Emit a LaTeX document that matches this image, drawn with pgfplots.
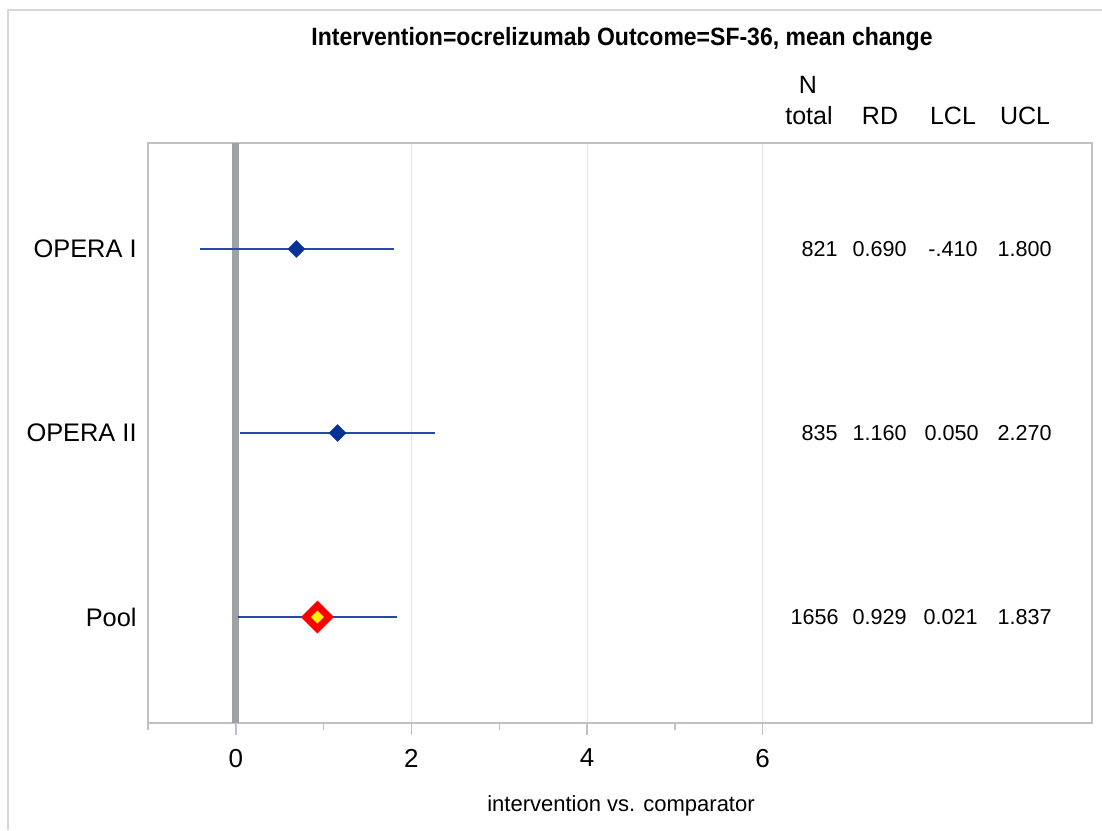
\documentclass[border=0pt]{standalone}
\usepackage{fontspec}
\setmainfont{Liberation Sans}
\newfontfamily\titlefont[FakeStretch=0.92]{Liberation Sans}
\usepackage{pgfplots}
\pgfplotsset{compat=1.18}
\definecolor{framegray}{RGB}{190,194,198}
\definecolor{outergray}{RGB}{215,215,215}
\definecolor{gridgray}{RGB}{228,228,228}
\definecolor{refgray}{RGB}{158,162,166}
\definecolor{blueline}{RGB}{35,75,170}
\definecolor{bluemark}{RGB}{5,50,150}
\begin{document}
\begin{tikzpicture}[x=0.5pt,y=0.5pt]
\useasboundingbox (0,0) rectangle (1102,830);
\draw[outergray, line width=1pt] (8,0) -- (8,820) -- (1102,820);
\begin{axis}[
  at={(74pt,53.5pt)}, anchor=south west,
  scale only axis, width=472pt, height=290pt,
  xmin=-1, xmax=9.75, ymin=0.424, ymax=3.576,
  axis line style={framegray, line width=0.75pt},
  xtick={0,2,4,6}, minor xtick={-1,1,3,5},
  xtick pos=bottom, ytick=\empty, tick align=outside,
  major tick length=6pt, minor tick length=3.5pt,
  every tick/.style={framegray, line width=0.75pt},
  xmajorgrids, grid style={gridgray, line width=0.5pt},
  /pgf/number format/assume math mode=true,
  xticklabel style={font=\fontsize{13}{15}\selectfont, yshift=-3.5pt},
]
\addplot[draw=refgray, line width=3.5pt, forget plot] coordinates {(0,0.424) (0,3.576)};
\addplot[only marks, line width=0.2pt, mark=square*, mark size=3.0pt, mark options={rotate=45, fill=bluemark, draw=bluemark, solid}] coordinates {(0.690,3) (1.160,2)};
\addplot[only marks, line width=3.4pt, mark=square*, mark size=4.1pt, mark options={rotate=45, fill=yellow, draw=red, solid, line width=3.4pt, miter limit=10}] coordinates {(0.929,1)};
\addplot[blueline, line width=0.9pt] coordinates {(-0.410,3) (1.800,3)};
\addplot[blueline, line width=0.9pt] coordinates {(0.050,2) (2.270,2)};
\addplot[blueline, line width=0.9pt] coordinates {(0.021,1) (1.837,1)};
\end{axis}
% title
\node[font=\titlefont\bfseries\fontsize{12.5}{14}\selectfont, anchor=base] at (622,784) {Intervention=ocrelizumab Outcome=SF-36, mean change};
% axis label
\node[font=\fontsize{11}{13}\selectfont, anchor=base] at (621,19) {intervention vs. comparator};
% row labels
\begin{scope}[every node/.style={font=\fontsize{12.7}{14}\selectfont, anchor=east, inner sep=0pt}]
\node at (137,581) {OPERA I};
\node at (137,397) {OPERA II};
\node at (137,213) {Pool};
\end{scope}
% headers
\begin{scope}[every node/.style={font=\fontsize{12.5}{14}\selectfont, anchor=center, inner sep=0pt}]
\node at (808,745) {N};
\node at (809,714) {total};
\node at (880,714) {RD};
\node at (953,714) {LCL};
\node at (1025,714) {UCL};
\end{scope}
% table values
\begin{scope}[every node/.style={font=\fontsize{10.8}{12}\selectfont, anchor=east, inner sep=0pt}]
\node at (838,581) {821};  \node at (907,581) {0.690}; \node at (978,581) {-.410}; \node at (1052,581) {1.800};
\node at (838,397) {835};  \node at (907,397) {1.160}; \node at (979,397) {0.050}; \node at (1052,397) {2.270};
\node at (839,213) {1656}; \node at (907,213) {0.929}; \node at (978,213) {0.021}; \node at (1052,213) {1.837};
\end{scope}
\end{tikzpicture}
\end{document}
